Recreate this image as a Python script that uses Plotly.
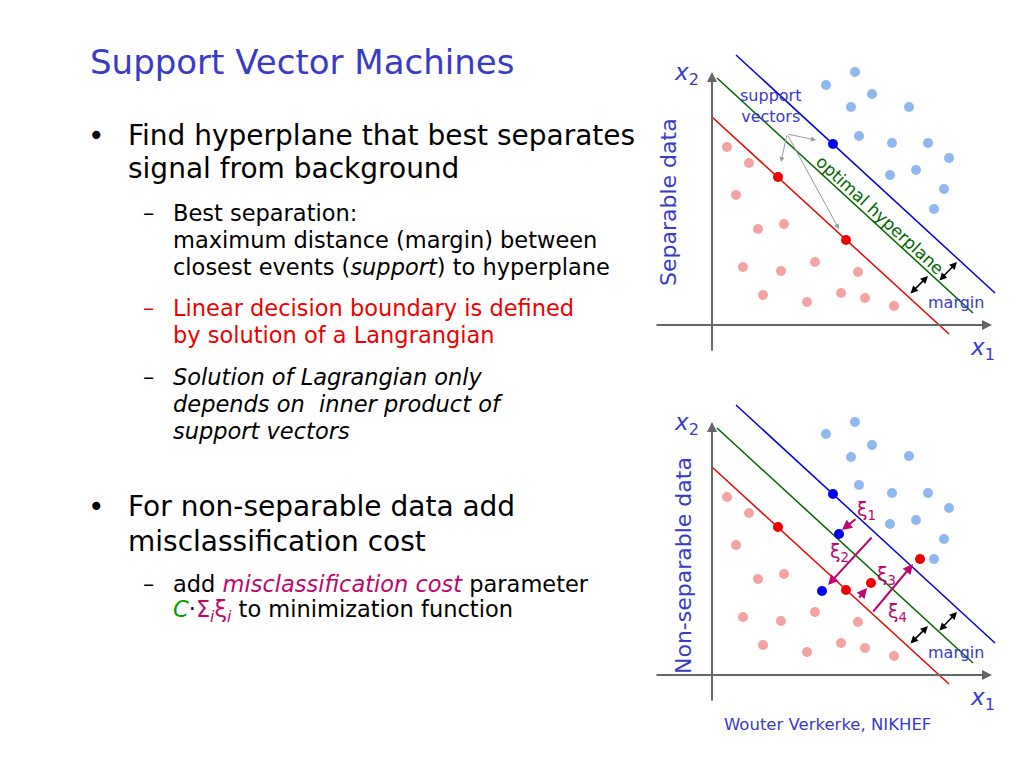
import plotly.graph_objects as go

# slide drawn in pixel space: x to the right, y downward
BLUE_TXT = "#3a3ac8"
LBLUE = "#8fb8ee"
LRED = "#f4a3a3"
MAG = "#c0056e"
GREEN = "#006400"

# top diagram (separable)
top_blue_x = [855, 826, 872, 851, 909, 859, 892, 928, 949, 890, 916, 944, 934]
top_blue_y = [72, 85, 94, 107, 107, 136, 143, 143, 158, 175, 170, 189, 209]
top_red_x = [727, 749, 736, 784, 758, 743, 781, 815, 858, 763, 807, 841, 865, 894]
top_red_y = [147, 163, 195, 224, 229, 267, 271, 262, 272, 295, 302, 293, 298, 306]
top_sv_blue = ([833], [144])
top_sv_red = ([778, 846], [177, 240])

# bottom diagram (non-separable)
bot_blue_x = top_blue_x
bot_blue_y = [422, 434, 445, 457, 456, 485, 493, 493, 508, 524, 520, 539, 559]
bot_red_x = top_red_x
bot_red_y = [y + 350 for y in top_red_y]
bot_dark_blue = ([833, 839, 822], [494, 534, 591])
bot_dark_red = ([778, 846, 871, 920], [527, 590, 583, 559])

fig = go.Figure()

def line(x0, y0, x1, y1, color, width=1.5):
    fig.add_trace(go.Scatter(x=[x0, x1], y=[y0, y1], mode="lines",
                             line=dict(color=color, width=width),
                             hoverinfo="skip", showlegend=False))

def pts(xs, ys, color, size=10):
    fig.add_trace(go.Scatter(x=xs, y=ys, mode="markers",
                             marker=dict(color=color, size=size),
                             hoverinfo="skip", showlegend=False))

ann = []

def arrow(x0, y0, x1, y1, color, head=2, width=1.5, both=False):
    ann.append(dict(x=x1, y=y1, ax=x0, ay=y0, xref="x", yref="y", axref="x", ayref="y",
                    showarrow=True, arrowhead=head, arrowsize=1, arrowwidth=width,
                    arrowcolor=color, text="",
                    arrowside="end+start" if both else "end"))

def txt(x, y, s, size, color="black", anchor="left", angle=0, font="DejaVu Sans"):
    ann.append(dict(x=x, y=y, xref="x", yref="y", text=s, showarrow=False,
                    xanchor=anchor, yanchor="middle", textangle=angle,
                    font=dict(size=size, color=color, family=font)))

for dy in (0, 350):
    # axes
    arrow(655, 325 + dy, 992, 325 + dy, "#666666", head=2, width=2)
    arrow(712, 352 + dy, 712, 72 + dy, "#666666", head=2, width=2)
    # lines
    line(736, 55 + dy, 995, 293 + dy, "#0000dd")
    line(717, 78 + dy, 973, 313 + dy, GREEN)
    line(712, 117 + dy, 949, 334 + dy, "#ee0000")
    # margin arrows
    arrow(909, 295 + dy, 928, 276 + dy, "black", both=True)
    arrow(938, 282 + dy, 957, 262 + dy, "black", both=True)
    txt(926, 302 + dy, "margin", 16, BLUE_TXT)
    txt(672, 74 + dy, "<i>x</i><sub>2</sub>", 23, BLUE_TXT)
    txt(968, 349 + dy, "<i>x</i><sub>1</sub>", 23, BLUE_TXT)

pts(top_blue_x, top_blue_y, LBLUE)
pts(top_red_x, top_red_y, LRED)
pts(*top_sv_blue, "#0000ee")
pts(*top_sv_red, "#ee0000")
pts(bot_blue_x, bot_blue_y, LBLUE)
pts(bot_red_x, bot_red_y, LRED)
pts(*bot_dark_blue, "#0000ee")
pts(*bot_dark_red, "#ee0000")

# support vector pointers
for tx, ty in [(816, 140), (781, 162), (839, 229)]:
    arrow(787, 134, tx, ty, "#999999", width=1)
txt(738, 106, "support<br>vectors", 16, BLUE_TXT)
txt(880, 215, "optimal hyperplane", 17, GREEN, anchor="center", angle=42.5)

# slack arrows
arrow(857, 518, 842, 530, MAG, width=2)
arrow(873, 536, 828, 585, MAG, width=2)
arrow(858, 599, 867, 588, MAG, width=2)
arrow(872, 613, 913, 564, MAG, width=2)
for x, y, i in [(855, 510, 1), (828, 552, 2), (875, 575, 3), (886, 612, 4)]:
    txt(x, y, "ξ<sub>%d</sub>" % i, 19, MAG)

txt(668, 202, "Separable data", 22, BLUE_TXT, anchor="center", angle=-90)
txt(683, 566, "Non-separable data", 22, BLUE_TXT, anchor="center", angle=-90)
txt(827, 724, "Wouter Verkerke, NIKHEF", 16.5, BLUE_TXT, anchor="center")

# slide text
txt(88, 62, "Support Vector Machines", 34, BLUE_TXT)
txt(86, 135, "•", 28)
txt(126, 135, "Find hyperplane that best separates", 28)
txt(126, 168, "signal from background", 28)
txt(141, 213, "–", 22.5)
txt(171, 213, "Best separation:", 22.5)
txt(171, 240, "maximum distance (margin) between", 22.5)
txt(171, 267, "closest events (<i>support</i>) to hyperplane", 22.5)
txt(141, 308, "–", 22.5, "#ee0000")
txt(171, 308, "Linear decision boundary is defined", 22.5, "#ee0000")
txt(171, 335, "by solution of a Langrangian", 22.5, "#ee0000")
txt(141, 377, "–", 22.5)
txt(171, 377, "<i>Solution of Lagrangian only</i>", 22.5)
txt(171, 404, "<i>depends on  inner product of</i>", 22.5)
txt(171, 431, "<i>support vectors</i>", 22.5)
txt(86, 506, "•", 28)
txt(126, 506, "For non-separable data add", 28)
txt(126, 541, "misclassification cost", 28)
txt(141, 584, "–", 22.5)
txt(171, 584, "add <span style='color:%s'><i>misclassification cost</i></span> parameter" % MAG, 22.5)
txt(171, 611, "<span style='color:#00a000'><i>C</i></span>·<span style='color:%s'>Σ<sub><i>i</i></sub>ξ<sub><i>i</i></sub></span> to minimization function" % MAG, 22.5)

# the page adds an 8px body margin, so shift the view to compensate
fig.update_layout(width=1024, height=768, margin=dict(l=0, r=0, t=0, b=0),
                  paper_bgcolor="white", plot_bgcolor="white", annotations=ann,
                  xaxis=dict(range=[8, 1032], visible=False, fixedrange=True),
                  yaxis=dict(range=[776, 8], visible=False, fixedrange=True))
fig.write_html("out.html")
